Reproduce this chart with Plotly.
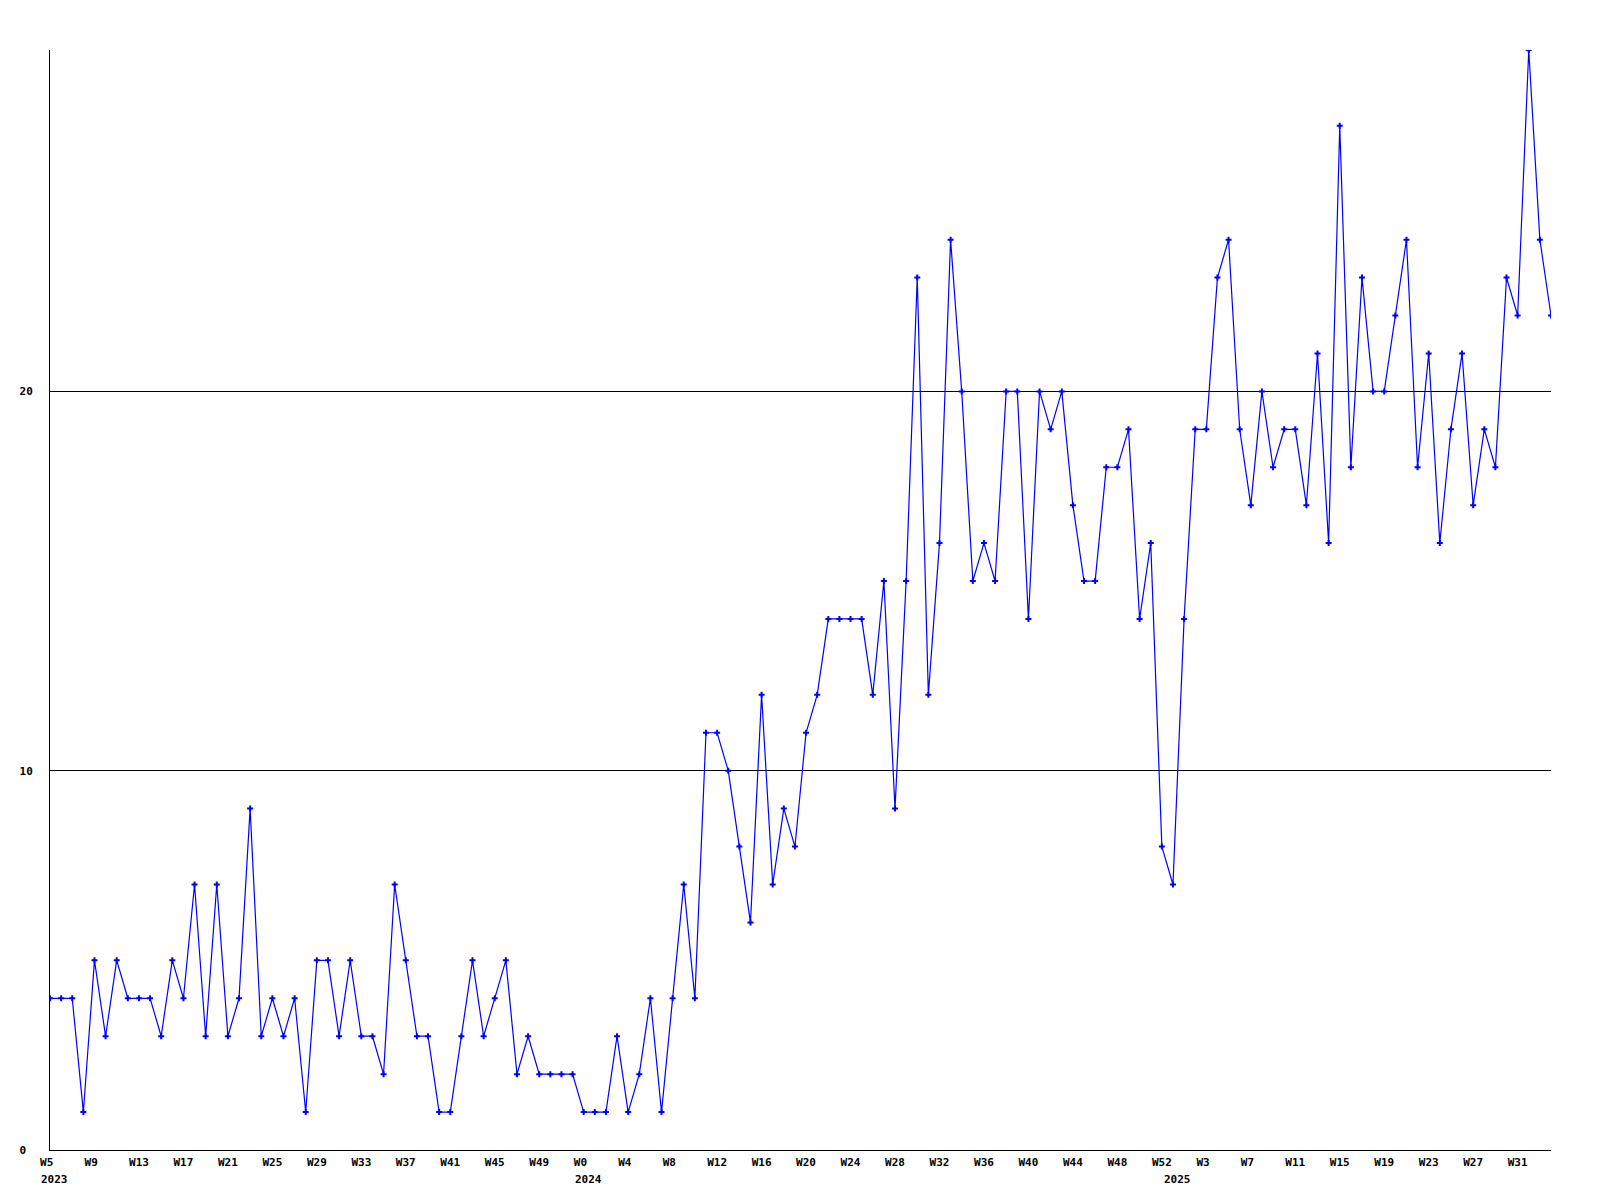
import plotly.graph_objects as go

# ---- data ----
years_2023_weeks = list(range(5, 53))   # W5..W52 of 2023
years_2024_weeks = list(range(0, 53))   # W0..W52 of 2024
years_2025_weeks = list(range(0, 35))   # W0..W34 of 2025

week_years = [2023] * len(years_2023_weeks) + [2024] * len(years_2024_weeks) + [2025] * len(years_2025_weeks)
week_numbers = years_2023_weeks + years_2024_weeks + years_2025_weeks
categories = [f"{y}-W{w}" for y, w in zip(week_years, week_numbers)]

values = [4, 4, 4, 1, 5, 3, 5, 4, 4, 4,
          3, 5, 4, 7, 3, 7, 3, 4, 9, 3,
          4, 3, 4, 1, 5, 5, 3, 5, 3, 3,
          2, 7, 5, 3, 3, 1, 1, 3, 5, 3,
          4, 5, 2, 3, 2, 2, 2, 2, 1, 1,
          1, 3, 1, 2, 4, 1, 4, 7, 4, 11,
          11, 10, 8, 6, 12, 7, 9, 8, 11, 12,
          14, 14, 14, 14, 12, 15, 9, 15, 23, 12,
          16, 24, 20, 15, 16, 15, 20, 20, 14, 20,
          19, 20, 17, 15, 15, 18, 18, 19, 14, 16,
          8, 7, 14, 19, 19, 23, 24, 19, 17, 20,
          18, 19, 19, 17, 21, 16, 27, 18, 23, 20,
          20, 22, 24, 18, 21, 16, 19, 21, 17, 19,
          18, 23, 22, 29, 24, 22]

y_tick_values = [0, 10, 20]
y_max = 29
x_tick_step = 4

NBSP = "\u00a0"
FONT = "DejaVu Sans Mono"

# x ticks every 4 weeks; pad to 3 chars so they sit left-aligned like the original
x_tickvals = categories[::x_tick_step]
x_ticktext = [f"W{w}".ljust(3, NBSP) for w in week_numbers[::x_tick_step]]

y_ticktext = [str(v).ljust(2, NBSP) for v in y_tick_values]

fig = go.Figure()
fig.add_trace(go.Scatter(
    x=categories, y=values, mode="lines+markers",
    line=dict(color="#0000ff", width=1.2),
    marker=dict(symbol="cross", size=5, color="#0000ff", line=dict(width=0)),
    showlegend=False, hoverinfo="x+y",
))

# year labels under first week of each year
seen = set()
for i, (y, cat) in enumerate(zip(week_years, categories)):
    if y in seen:
        continue
    seen.add(y)
    fig.add_annotation(
        x=cat, y=0, xref="x", yref="paper", text=str(y), showarrow=False,
        xanchor="left", yanchor="top", xshift=-11, yshift=-21,
        font=dict(family=FONT, size=11, color="black", weight="bold"),
    )

fig.update_layout(
    width=1592, height=1192,
    margin=dict(l=42, r=49, t=42, b=50, pad=0),
    paper_bgcolor="white", plot_bgcolor="white",
    font=dict(family=FONT, size=11, color="black"),
    xaxis=dict(
        type="category", categoryorder="array", categoryarray=categories,
        range=[0, len(categories) - 1],
        tickmode="array", tickvals=x_tickvals, ticktext=x_ticktext,
        showgrid=False, zeroline=False, showline=True, linecolor="black", linewidth=1,
        ticks="", ticklabelstandoff=2,
        tickfont=dict(family=FONT, size=11, color="black", weight="bold"),
    ),
    yaxis=dict(
        range=[0, y_max], tickmode="array", tickvals=y_tick_values, ticktext=y_ticktext,
        showgrid=True, gridcolor="black", gridwidth=1, zeroline=False,
        showline=True, linecolor="black", linewidth=1,
        ticks="", ticklabelstandoff=14,
        tickfont=dict(family=FONT, size=11, color="black", weight="bold"),
    ),
)

fig.write_html("out.html")
